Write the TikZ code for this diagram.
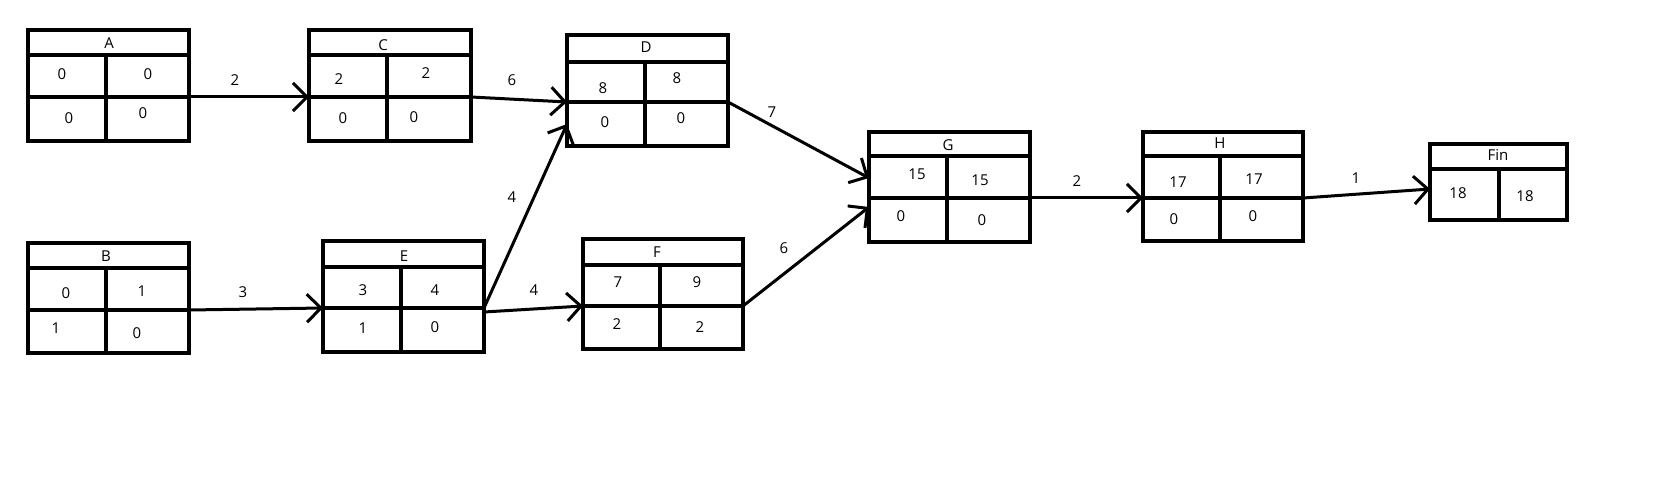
\documentclass[tikz,border=0pt]{standalone}
\usepackage{fontspec}
\setmainfont{Open Sans}
\usetikzlibrary{arrows.meta}
\tikzset{
  pbox/.style={draw, rectangle, line width=3.2pt, inner sep=0pt, outer sep=0pt},
  pline/.style={line width=3.2pt},
  arr/.style={line width=3pt, -{Straight Barb[length=14pt,width=28pt]}},
  txt/.style={inner sep=0pt, font=\fontsize{15}{18}\selectfont},
  lbl/.style={txt}
}
% #1 name, #2 x1, #3 y1, #4 x2, #5 y2, #6 header y, #7 middle y, #8 divider x
\newcommand\pertbox[8]{%
  \node[pbox, minimum width={#4-#2}, minimum height={#5-#3}] (#1) at ({(#2+#4)/2},{(#3+#5)/2}) {};
  \draw[pline] (#2,#6) -- (#4,#6);
  \draw[pline] (#8,#6) -- (#8,#5);
  \path (#1.west) ++(0,{#7-(#3+#5)/2}) coordinate (#1-ml);
  \path (#1.east) ++(0,{#7-(#3+#5)/2}) coordinate (#1-mr);
}
\begin{document}
\begin{tikzpicture}[x=1pt,y=-1pt]
\fill[white] (0,0) rectangle (1653,494);
\useasboundingbox (0,0) rectangle (1653,494);

% boxes
\pertbox{A}{28}{30}{189}{141}{55}{97}{106}
\draw[pline] (A-ml) -- (A-mr);
\pertbox{C}{309}{30}{471}{141}{55}{97}{387}
\draw[pline] (C-ml) -- (C-mr);
\pertbox{D}{567}{35}{728}{146}{62}{102}{645}
\draw[pline] (D-ml) -- (D-mr);
\pertbox{B}{28}{243}{189}{353}{268}{310}{106}
\draw[pline] (B-ml) -- (B-mr);
\pertbox{E}{323}{241}{484}{352}{267}{308}{401}
\draw[pline] (E-ml) -- (E-mr);
\pertbox{F}{583}{239}{743}{349}{265}{306}{660}
\draw[pline] (F-ml) -- (F-mr);
\pertbox{G}{869}{132}{1030}{242}{156}{198}{947}
\draw[pline] (G-ml) -- (G-mr);
\pertbox{H}{1143}{132}{1303}{241}{156}{198}{1220}
\draw[pline] (H-ml) -- (H-mr);
\pertbox{Fin}{1430}{144}{1567}{220}{169}{189}{1499}

% extra connector ends
\path (D.west) ++(0,33.5) coordinate (D-in);
\path (E.east) ++(0,15.5) coordinate (E-out);
\path (G.west) ++(0,-9) coordinate (G-in1);
\path (G.west) ++(0,20) coordinate (G-in2);

% connectors
\draw[arr] (A-mr) -- (C-ml);
\draw[arr] (C-mr) -- (D-ml);
\draw[arr] (B-mr) -- (E-ml);
\draw[arr] (E-mr) -- (D-in);
\draw[arr] (E-out) -- (F-ml);
\draw[arr] (D-mr) -- (G-in1);
\draw[arr] (F-mr) -- (G-in2);
\draw[arr] (G-mr) -- (H-ml);
\draw[arr] (H-mr) -- (Fin-ml);

% connector labels
\node[lbl] (lAC) at (235,80) {2};
\node[lbl] (lCD) at (512,80) {6};
\node[lbl] (lBE) at (243,292) {3};
\node[lbl] (lED) at (512,197) {4};
\node[lbl] (lEF) at (534,290) {4};
\node[lbl] (lDG) at (772,112) {7};
\node[lbl] (lFG) at (784,248) {6};
\node[lbl] (lGH) at (1077,181) {2};
\node[lbl] (lHF) at (1356,178) {1};

% box texts
\node[txt] (tA) at (109,43) {A};
\node[txt] (A1) at (62,74) {0};
\node[txt] (A2) at (148,74) {0};
\node[txt] (A3) at (69,118) {0};
\node[txt] (A4) at (143,113) {0};

\node[txt] (tC) at (383,45) {C};
\node[txt] (C1) at (339,79) {2};
\node[txt] (C2) at (426,73) {2};
\node[txt] (C3) at (343,118) {0};
\node[txt] (C4) at (414,117) {0};

\node[txt] (tD) at (646,47) {D};
\node[txt] (D1) at (603,88) {8};
\node[txt] (D2) at (677,78) {8};
\node[txt] (D3) at (605,122) {0};
\node[txt] (D4) at (681,118) {0};

\node[txt] (tB) at (106,256) {B};
\node[txt] (B1) at (66,293) {0};
\node[txt] (B2) at (142,291) {1};
\node[txt] (B3) at (56,328) {1};
\node[txt] (B4) at (137,333) {0};

\node[txt] (tE) at (404,256) {E};
\node[txt] (E1) at (363,290) {3};
\node[txt] (E2) at (435,290) {4};
\node[txt] (E3) at (363,328) {1};
\node[txt] (E4) at (435,327) {0};

\node[txt] (tF) at (657,252) {F};
\node[txt] (F1) at (618,282) {7};
\node[txt] (F2) at (697,282) {9};
\node[txt] (F3) at (617,324) {2};
\node[txt] (F4) at (700,327) {2};

\node[txt] (tG) at (948,145) {G};
\node[txt] (G1) at (917,174) {15};
\node[txt] (G2) at (980,180) {15};
\node[txt] (G3) at (901,216) {0};
\node[txt] (G4) at (982,220) {0};

\node[txt] (tH) at (1220,143) {H};
\node[txt] (H1) at (1178,182) {17};
\node[txt] (H2) at (1254,179) {17};
\node[txt] (H3) at (1174,219) {0};
\node[txt] (H4) at (1253,216) {0};

\node[txt] (tFin) at (1498,155) {Fin};
\node[txt] (Fin1) at (1458,193) {18};
\node[txt] (Fin2) at (1525,196) {18};
\end{tikzpicture}
\end{document}
